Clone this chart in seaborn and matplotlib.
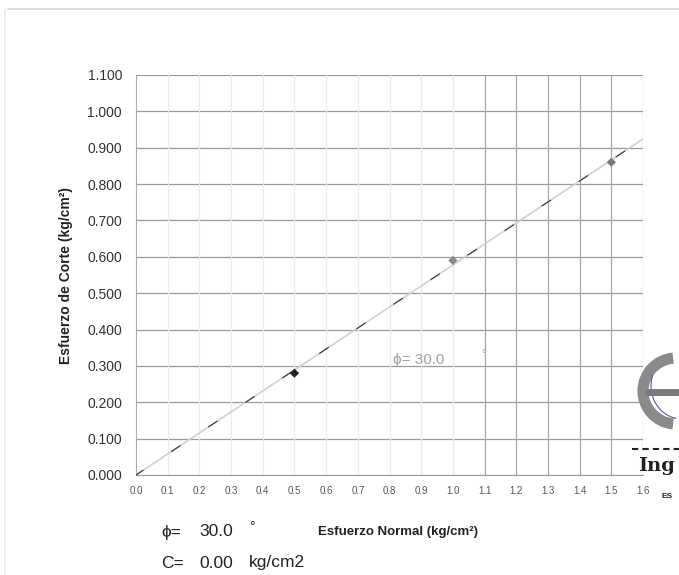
import numpy as np
import pandas as pd
import matplotlib
matplotlib.use("Agg")
import matplotlib.pyplot as plt
import seaborn as sns
from matplotlib.patches import Arc

# ---- data ----
normal_stress = [0.5, 1.0, 1.5]
shear_stress = [0.28, 0.59, 0.86]
point_colors = ["#222222", "#8a8a8a", "#7a7a7a"]
fit_x = [0.0, 1.6]
fit_y = [0.0, 0.924]
phi_deg = 30.0
cohesion = 0.00
y_ticks = [0.0, 0.1, 0.2, 0.3, 0.4, 0.5, 0.6, 0.7, 0.8, 0.9, 1.0, 1.1]
x_ticks = [0.0, 0.1, 0.2, 0.3, 0.4, 0.5, 0.6, 0.7, 0.8, 0.9, 1.0, 1.1, 1.2, 1.3, 1.4, 1.5, 1.6]

sns.set_style("white")
plt.rcParams['font.family'] = ['Liberation Sans', 'DejaVu Sans']

W, H = 679, 575
fig = plt.figure(figsize=(W / 100, H / 100), dpi=100)
ax = fig.add_axes([136 / W, 1 - 475 / H, (643 - 136) / W, (475 - 75) / H])

pts = pd.DataFrame({"x": normal_stress, "y": shear_stress, "k": ["a", "b", "c"]})
fit = pd.DataFrame({"x": fit_x, "y": fit_y})

# fit line: light gray with sparse dark dashes (scan look)
sns.lineplot(data=fit, x="x", y="y", ax=ax, color="#d0d0d0", linewidth=1.2, zorder=3)
ax.plot(fit_x, fit_y, color="#333333", linewidth=0.8, linestyle=(2, (10, 30)), zorder=3)

sns.scatterplot(data=pts, x="x", y="y", hue="k", palette=point_colors, marker="D",
                s=22, edgecolor="none", legend=False, ax=ax, zorder=4)

ax.set_xlim(0, 1.6)
ax.set_ylim(0, 1.1)
ax.set_yticks(y_ticks)
ax.set_yticklabels([f"{v:.3f}" for v in y_ticks], fontsize=10, color="#333333")
ax.set_xticks(x_ticks)
ax.set_xticklabels([f"{v:.1f}" for v in x_ticks], fontsize=7, color="#555555")
ax.tick_params(axis="y", length=0, pad=10)
ax.tick_params(axis="x", length=0, pad=8)

# grid
for v in y_ticks:
    ax.axhline(v, color="#9a9a9a", linewidth=0.9, zorder=1)
for v in x_ticks[1:]:
    c = "#a8a8a8" if v >= 1.05 else "#ececec"
    ax.axvline(v, color=c, linewidth=0.9, zorder=1)

for s in ["top", "right"]:
    ax.spines[s].set_visible(False)
ax.spines["left"].set_color("#aaaaaa")
ax.spines["bottom"].set_color("#9a9a9a")

ax.set_xlabel("")
ax.set_ylabel("Esfuerzo de Corte (kg/cm²)", fontsize=10, fontweight="bold",
              color="#222222", labelpad=10)

# in-plot annotation
ax.text(0.81, 0.316, f"ϕ= {phi_deg:.1f}", fontsize=11, color="#a0a0a0", va="center")
ax.text(1.09, 0.33, "°", fontsize=9, color="#a0a0a0", va="center")

# below-chart texts
fig.text(161 / W, 1 - 532 / H, "ϕ=", fontsize=12.5, color="#222222", va="center")
fig.text(199 / W, 1 - 532 / H, f"{phi_deg:.1f}", fontsize=12.5, color="#222222", va="center")
fig.text(249 / W, 1 - 527 / H, "°", fontsize=10, color="#222222", va="center")
fig.text(161 / W, 1 - 563 / H, "C=", fontsize=12.5, color="#222222", va="center")
fig.text(199 / W, 1 - 563 / H, f"{cohesion:.2f}", fontsize=12.5, color="#222222", va="center")
fig.text(249 / W, 1 - 563 / H, "kg/cm2", fontsize=12.5, color="#222222", va="center")
fig.text(318 / W, 1 - 532 / H, "Esfuerzo Normal (kg/cm²)", fontsize=9.5,
         fontweight="bold", color="#222222", va="center")

# partial seal at right edge
fa = fig.add_axes([0, 0, 1, 1], facecolor="none")
fa.set_xlim(0, W)
fa.set_ylim(H, 0)
fa.axis("off")
fa.add_patch(Arc((676, 391), 66, 66, theta1=95, theta2=265, color="#8a8a8a", linewidth=8))
fa.add_patch(Arc((682, 386), 62, 66, theta1=100, theta2=200, color="#5555aa", linewidth=0.8))
fa.plot([648, 679], [392, 392], color="#7a7a7a", linewidth=5)
fa.plot([632, 679], [449, 449], color="#222222", linewidth=1.5, linestyle=(0, (3, 2)))
fa.text(638, 466, "Ing", fontsize=14, fontweight="bold", family="DejaVu Serif",
        color="#222222", va="center")
fa.text(662, 496, "ES", fontsize=6, fontweight="bold", color="#222222", va="center")
# page frame lines
fa.plot([8, 679], [9, 9], color="#d5d5d5", linewidth=1.2)
fa.plot([5, 5], [9, 575], color="#eeeeee", linewidth=1.2)

fig.savefig("out.png", dpi=100)
